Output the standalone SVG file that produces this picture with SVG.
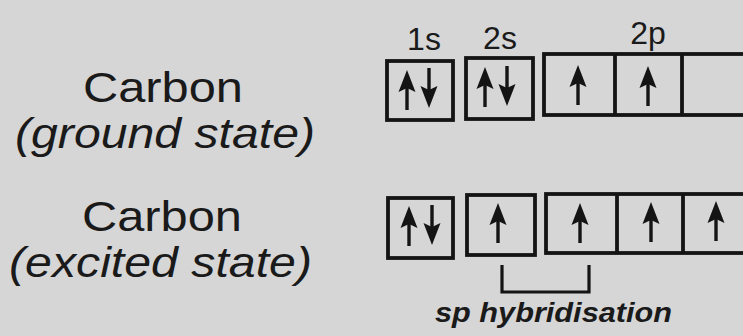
<svg xmlns="http://www.w3.org/2000/svg" xmlns:xlink="http://www.w3.org/1999/xlink" width="743" height="336" viewBox="0 0 743 336">
<style>
.bg{fill:#d6d6d7}
.box{fill:none;stroke:#141414;stroke-width:3.8}
.lbl{font-family:"Liberation Sans",Arial,sans-serif;fill:#1a1a1a}
.orb{font-size:32px}
.big{font-size:42px}
.it{font-style:italic}
.sp{font-size:27px;font-weight:bold;font-style:italic}
.line{fill:none;stroke:#141414;stroke-width:3.2}
</style>
<defs>
<g id="up"><line x1="0" y1="14" x2="0" y2="40" stroke="#141414" stroke-width="3.4"/><polygon points="0,0 8.5,22 0,18 -8.5,22" fill="#141414"/></g>
<g id="down"><line x1="0" y1="0" x2="0" y2="26" stroke="#141414" stroke-width="3.4"/><polygon points="0,40 8.5,18 0,22 -8.5,18" fill="#141414"/></g>
</defs>
<rect class="bg" x="0" y="0" width="743" height="336"/>
<g id="labels-left">
<text class="lbl big" x="83" y="102" textLength="160" lengthAdjust="spacingAndGlyphs">Carbon</text>
<text class="lbl big it" x="15" y="148" textLength="300" lengthAdjust="spacingAndGlyphs">(ground state)</text>
<text class="lbl big" x="82" y="231" textLength="160" lengthAdjust="spacingAndGlyphs">Carbon</text>
<text class="lbl big it" x="9" y="277" textLength="303" lengthAdjust="spacingAndGlyphs">(excited state)</text>
</g>
<g id="orbital-labels">
<text class="lbl orb" x="424" y="50" text-anchor="middle">1s</text>
<text class="lbl orb" x="500" y="49" text-anchor="middle">2s</text>
<text class="lbl orb" x="648" y="44" text-anchor="middle">2p</text>
</g>
<g id="ground-1s"><rect class="box" x="387" y="61" width="66" height="59"/><use xlink:href="#up" x="407" y="70"/><use xlink:href="#down" x="429" y="68"/></g>
<g id="ground-2s"><rect class="box" x="466" y="58" width="67" height="61"/><use xlink:href="#up" x="485" y="67"/><use xlink:href="#down" x="507" y="66"/></g>
<g id="ground-2p"><rect class="box" x="544" y="54" width="210" height="61"/><line class="box" x1="615" y1="54" x2="615" y2="115"/><line class="box" x1="682" y1="54" x2="682" y2="115"/><use xlink:href="#up" x="578" y="65"/><use xlink:href="#up" x="648" y="66"/></g>
<g id="excited-1s"><rect class="box" x="388" y="198" width="65" height="60"/><use xlink:href="#up" x="409" y="206"/><use xlink:href="#down" x="432" y="205"/></g>
<g id="excited-2s"><rect class="box" x="467" y="195" width="68" height="60"/><use xlink:href="#up" x="498" y="203"/></g>
<g id="excited-2p"><rect class="box" x="546" y="194" width="210" height="59"/><line class="box" x1="617" y1="194" x2="617" y2="253"/><line class="box" x1="683" y1="194" x2="683" y2="253"/><use xlink:href="#up" x="580" y="203"/><use xlink:href="#up" x="651" y="202"/><use xlink:href="#up" x="716" y="201"/></g>
<g id="connectors">
<polyline class="line" points="502,265 502,292 589,292 589,265"/>
</g>
<g id="sp-label">
<text class="lbl sp" x="435" y="322" textLength="237" lengthAdjust="spacingAndGlyphs">sp hybridisation</text>
</g>
</svg>
